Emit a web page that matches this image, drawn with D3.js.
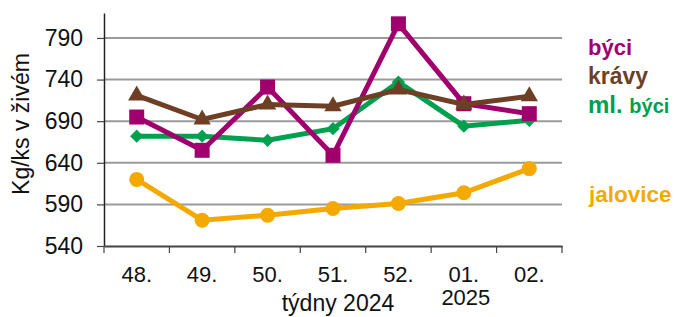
<!DOCTYPE html>
<html>
<head>
<meta charset="utf-8">
<script src="https://cdn.jsdelivr.net/npm/d3@7"></script>
<style>
  body { margin: 0; background: #fff; }
  text { font-family: 'Liberation Sans', Arial, sans-serif; }
</style>
</head>
<body>
<svg width="694" height="317"></svg>
<script>
  const weeks = ['48.', '49.', '50.', '51.', '52.', '01.', '02.']
  const yTicks = [540, 590, 640, 690, 740, 790]

  const byci = [695, 655, 731, 649, 807, 711, 699]
  const kravy = [721, 692, 710, 708, 728, 710, 720]
  const mlByci = [672, 672, 667, 681, 737, 684, 691]
  const jalovice = [620, 571, 577, 585, 591, 604, 633]

  const series = [
    { name: 'jalovice', values: jalovice, color: '#f4a900', symbol: 'circle' },
    { name: 'ml. býci', values: mlByci, color: '#00a04f', symbol: 'diamond' },
    { name: 'býci', values: byci, color: '#a0006e', symbol: 'square' },
    { name: 'krávy', values: kravy, color: '#6e3f24', symbol: 'triangle' },
  ]

  const svg = d3.select('svg')

  const x = d3.scaleBand().
    domain(weeks).
    range([104, 562])

  const y = d3.scaleLinear().
    domain([540, 820]).
    range([246, 13])

  // gridlines
  svg.append('g').
    selectAll('line').
    data(yTicks.slice(1)).
    enter().
    append('line').
    attr('x1', 104).
    attr('x2', 562).
    attr('y1', d => y(d)).
    attr('y2', d => y(d)).
    attr('stroke', '#9a9a9a').
    attr('stroke-width', 2)

  const yAxis = svg.append('g').
    attr('transform', 'translate(104,0)').
    call(d3.axisLeft(y).tickValues(yTicks).tickSize(7).tickPadding(14).tickSizeOuter(0))

  yAxis.select('.domain').attr('stroke', '#222').attr('stroke-width', 1.5)
  yAxis.selectAll('.tick line').attr('stroke', '#444').attr('stroke-width', 1.2)
  yAxis.selectAll('.tick text').
    attr('font-size', 23).
    attr('fill', '#111').
    style('font-family', "'Liberation Sans', Arial, sans-serif")

  const xAxis = svg.append('g').
    attr('transform', 'translate(0,246)').
    call(d3.axisBottom(x).tickSize(0).tickPadding(20))

  xAxis.select('.domain').attr('stroke', '#444').attr('stroke-width', 2)
  xAxis.selectAll('.tick text').
    attr('font-size', 22).
    attr('fill', '#111').
    style('font-family', "'Liberation Sans', Arial, sans-serif")

  // band boundary ticks
  svg.append('g').
    selectAll('line').
    data(weeks.map(d => x(d)).concat([x.range()[1]])).
    enter().
    append('line').
    attr('x1', d => d).
    attr('x2', d => d).
    attr('y1', 246).
    attr('y2', 253).
    attr('stroke', '#444').
    attr('stroke-width', 1.2)

  svg.append('text').
    attr('x', 338).
    attr('y', 311).
    attr('text-anchor', 'middle').
    attr('font-size', 23).
    attr('fill', '#111').
    text('týdny 2024')

  svg.append('text').
    attr('x', x('01.') + x.bandwidth() / 2 + 2).
    attr('y', 305).
    attr('text-anchor', 'middle').
    attr('font-size', 22).
    attr('fill', '#111').
    text('2025')

  svg.append('text').
    attr('transform', 'translate(29,124) rotate(-90)').
    attr('text-anchor', 'middle').
    attr('font-size', 23).
    attr('fill', '#111').
    text('Kg/ks v živém')

  const cx = (d, i) => x(weeks[i]) + x.bandwidth() / 2

  const line = d3.line().
    x(cx).
    y(d => y(d))

  const symbols = {
    circle: d3.symbol(d3.symbolCircle, 177),
    diamond: d3.symbol(d3.symbolSquare, 88),
    square: d3.symbol(d3.symbolSquare, 225),
    triangle: d3.symbol(d3.symbolTriangle, 130),
  }

  series.forEach(s => {
    const g = svg.append('g')
    g.append('path').
      attr('d', line(s.values)).
      attr('fill', 'none').
      attr('stroke', s.color).
      attr('stroke-width', 5).
      attr('stroke-linejoin', 'miter')

    g.selectAll('path.mark').
      data(s.values).
      enter().
      append('path').
      attr('class', 'mark').
      attr('d', symbols[s.symbol]()).
      attr('transform', (d, i) => `translate(${cx(d, i)},${y(d)})` + (s.symbol === 'diamond' ? ' rotate(45)' : '')).
      attr('fill', s.color)
  })

  // legend
  const legend = svg.append('g').
    attr('font-weight', 'bold')

  legend.append('text').attr('x', 588).attr('y', 55).attr('font-size', 22).attr('fill', '#a0006e').text('býci')
  legend.append('text').attr('x', 588).attr('y', 84).attr('font-size', 23).attr('fill', '#6e3f24').text('krávy')
  const ml = legend.append('text').attr('x', 588).attr('y', 113).attr('fill', '#00a04f')
  ml.append('tspan').attr('font-size', 24).text('ml. ')
  ml.append('tspan').attr('font-size', 20).text('býci')
  legend.append('text').attr('x', 589).attr('y', 202).attr('font-size', 22.5).attr('fill', '#f4a900').text('jalovice')
</script>
</body>
</html>
